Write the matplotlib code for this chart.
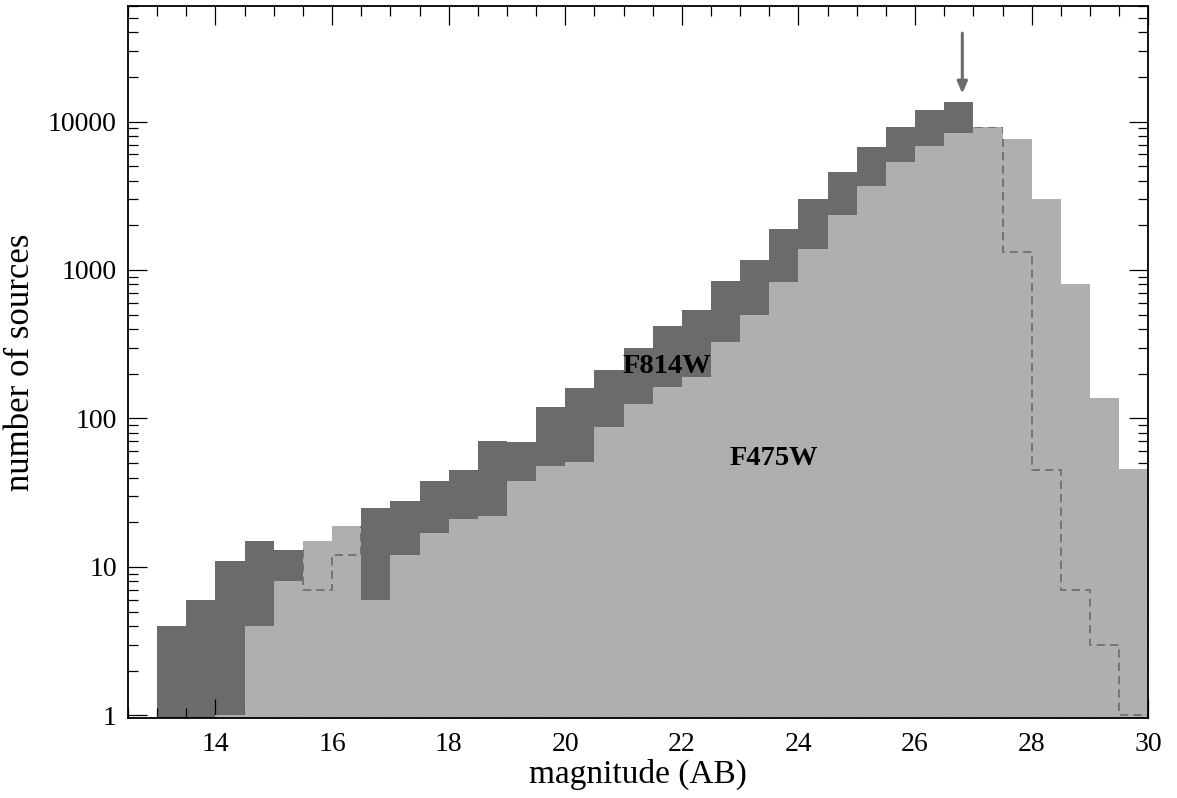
import matplotlib
matplotlib.use("Agg")
import matplotlib.pyplot as plt
import numpy as np

# bin edges (magnitude, AB) -- 0.5 mag bins from 13 to 30
bin_edges = [13.0 + 0.5 * i for i in range(35)]

# F814W counts per bin
f814w = [4, 6, 11, 15, 13, 7, 12, 25, 28, 38, 45, 70, 69, 120, 160, 213,
         300, 417, 534, 846, 1159, 1902, 3000, 4604, 6745, 9170, 11990,
         13580, 9120, 1330, 45, 7, 3, 1]

# F475W counts per bin
f475w = [0, 0, 1, 4, 8, 15, 19, 6, 12, 17, 21, 22, 38, 48, 51, 87, 125,
         163, 189, 327, 501, 833, 1383, 2344, 3690, 5297, 6890, 8430, 9120,
         7660, 3000, 800, 137, 46]

x_ticks = [14, 16, 18, 20, 22, 24, 26, 28, 30]
y_ticks = [1, 10, 100, 1000, 10000]
y_ticklabels = ["1", "10", "100", "1000", "10000"]

arrow_mag = 26.81
arrow_from = 39400
arrow_to = 15400

dark = "#6b6b6b"
light = "#afafaf"

plt.rcParams["font.family"] = ["Liberation Serif", "DejaVu Serif"]

fig = plt.figure(figsize=(11.77, 7.98), dpi=100)
ax = fig.add_axes([128 / 1177, 1 - 718 / 798, (1148.3 - 128) / 1177, (718 - 6) / 798])

left = np.array(bin_edges[:-1])
d = np.array(f814w, dtype=float)
l = np.array(f475w, dtype=float)

ax.bar(left, d, width=0.5, align="edge", color=dark, linewidth=0, zorder=1)
ax.bar(left, l, width=0.5, align="edge", color=light, linewidth=0, zorder=2)

# region covered by F475W, used to show the F814W dashed outline only there
clip_patch = ax.stairs(np.maximum(l, 0.5), bin_edges, baseline=0.5, fill=True,
                       color=light, linewidth=0, visible=False)
outline = ax.stairs(d, bin_edges, baseline=None, color=dark, linewidth=1.2,
                    linestyle=(0, (5, 3)), zorder=3)
outline.set_clip_path(clip_patch)

ax.set_yscale("log")
ax.set_xlim(12.5, 30)
ax.set_ylim(0.96, 6e4)

ax.set_xticks(x_ticks)
ax.set_xticks(np.arange(12.5, 30.01, 0.5), minor=True)
ax.set_yticks(y_ticks)
ax.set_yticklabels(y_ticklabels)
ax.yaxis.set_minor_locator(matplotlib.ticker.LogLocator(base=10, subs=np.arange(2, 10)))
ax.yaxis.set_minor_formatter(matplotlib.ticker.NullFormatter())

ax.tick_params(which="both", direction="in", top=True, right=True, labelsize=20,
               width=0.9, color="black")
ax.tick_params(which="major", length=14)
ax.tick_params(which="minor", length=7)
ax.tick_params(axis="y", pad=8)
ax.tick_params(axis="x", pad=10)
for s in ax.spines.values():
    s.set_linewidth(1.3)
    s.set_zorder(10)

ax.set_xlabel("magnitude (AB)", fontsize=24, labelpad=1)
ax.set_ylabel("number of sources", fontsize=25, labelpad=8)

ax.text(21.74, 202, "F814W", fontsize=20.5, fontweight="bold", ha="center",
        va="baseline", zorder=5)
ax.text(23.58, 48.8, "F475W", fontsize=20.5, fontweight="bold", ha="center",
        va="baseline", zorder=5)

ax.annotate("", xy=(arrow_mag, arrow_to), xytext=(arrow_mag, arrow_from),
            arrowprops=dict(arrowstyle="-|>,head_length=0.7,head_width=0.3",
                            color=dark, lw=2.2, shrinkA=0, shrinkB=0),
            zorder=6)

fig.savefig("out.png", dpi=100)
